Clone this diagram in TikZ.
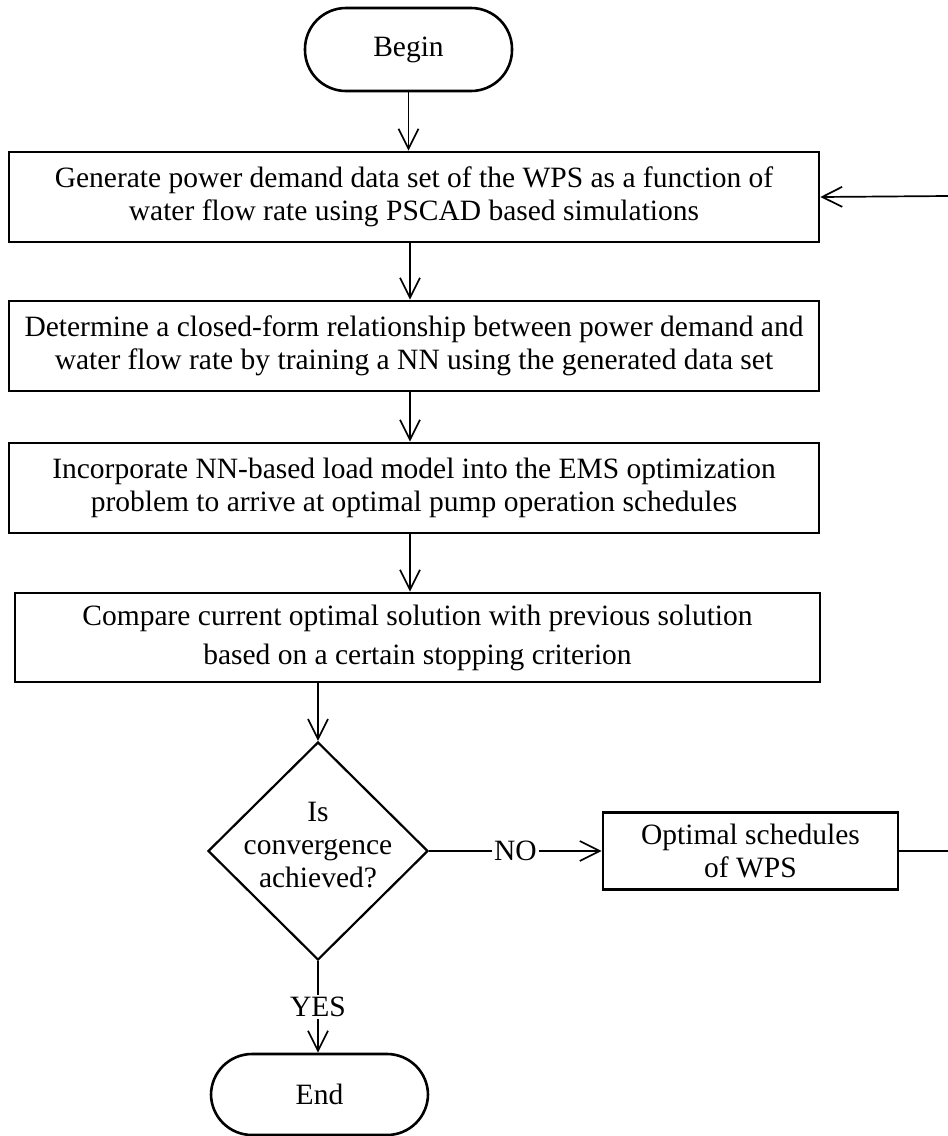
\documentclass[tikz,border=0pt]{standalone}
\usepackage{fontspec}
\setmainfont{Liberation Serif}
\usetikzlibrary{shapes.geometric,arrows.meta}
\begin{document}
\begin{tikzpicture}[x=0.5pt,y=-0.5pt,
  every node/.style={font=\fontsize{14.75}{16.5}\selectfont},
  stepbox/.style={draw, line width=1.3pt, minimum width=405pt, minimum height=45pt,
    align=center, inner sep=0pt},
  term/.style={draw, line width=1.3pt, rounded corners=20.5pt, minimum width=103.5pt,
    minimum height=41.5pt, inner sep=0pt},
  decision/.style={draw, shape=diamond, line width=1.1pt, minimum width=110pt,
    minimum height=109pt, inner sep=0pt},
  arr/.style={line width=0.85pt, -{Straight Barb[length=10pt,width=10pt,line width=0.85pt]}},
  link/.style={line width=0.85pt},
  tag/.style={fill=white, inner sep=1pt}
]
\useasboundingbox (0,0) rectangle (948,1136);

% terminators, process steps and the decision
\node[term] (begin) at (408.5,49.5) {Begin};
\node[stepbox] (s1) at (414,197) {Generate power demand data set of the WPS as a function of\\water flow rate using PSCAD based simulations};
\node[stepbox] (s2) at (414,346) {Determine a closed-form relationship between power demand and\\water flow rate by training a NN using the generated data set};
\node[stepbox] (s3) at (414,488) {Incorporate NN-based load model into the EMS optimization\\problem to arrive at optimal pump operation schedules};
\node[stepbox, minimum width=402.5pt, minimum height=44.5pt] (s4) at (417.5,637.5) {Compare current optimal solution with previous solution\\[3pt]based on a certain stopping criterion};
\node[decision] (dec) at (318,851) {};
\node[align=center] (dectext) at (318,845) {Is\\convergence\\achieved?};
\node[stepbox, minimum width=147.5pt, minimum height=38.5pt] (s5) at (750.5,851) {Optimal schedules\\of WPS};
\node[term, minimum width=108.5pt, minimum height=40.5pt] (end) at (319.5,1094.5) {End};

% ends of the feedback loop at the right edge
\coordinate (outR) at (948,851);
\coordinate (inR) at (948,196);

% connectors
\draw[arr] (begin.south) -- (begin.south |- s1.north);
\draw[arr] ([xshift=-2pt]s1.south) -- ([xshift=-2pt]s2.north);
\draw[arr] ([xshift=-2pt]s2.south) -- ([xshift=-2pt]s3.north);
\draw[arr] ([xshift=-2pt]s3.south) -- ([xshift=-2pt]s3.south |- s4.north);
\draw[arr] (dec.north |- s4.south) -- (dec.north);
\draw[arr] (dec.east) -- node[tag] {NO} (s5.west);
\draw[arr] (dec.south) -- node[tag] {YES} (dec.south |- end.north);
\draw[link] (s5.east) -- (outR);
\draw[arr] (inR) -- (s1.east);
\end{tikzpicture}
\end{document}
